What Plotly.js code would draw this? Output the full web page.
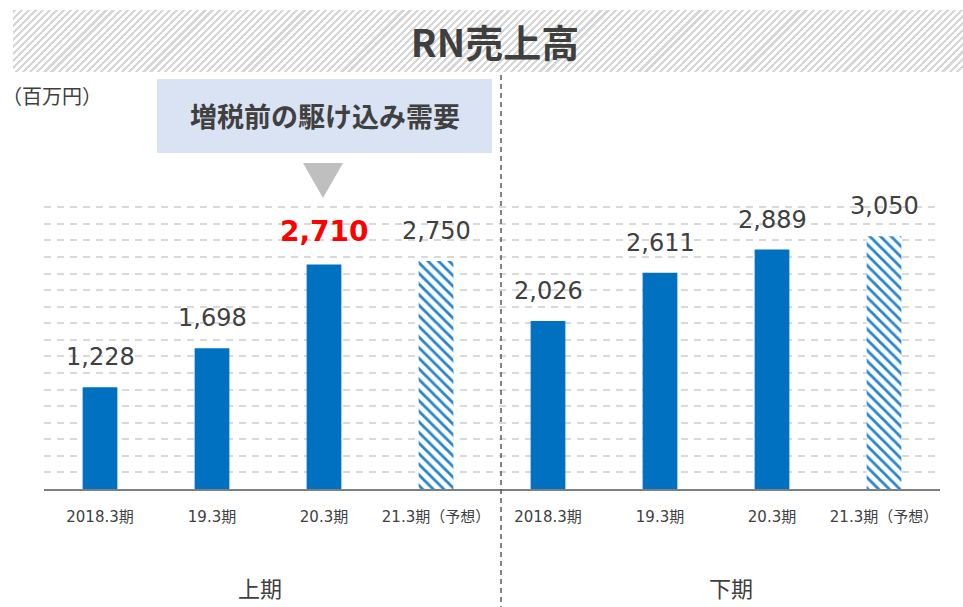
<!DOCTYPE html>
<html>
<head>
<meta charset="utf-8">
<script src="https://cdn.plot.ly/plotly-3.0.1.min.js"></script>
<style>
  html, body { margin: 0; padding: 0; background: #ffffff; }
  #wrap { position: relative; width: 963px; height: 607px; overflow: hidden; }
  #band { position: absolute; left: 13px; top: 10px; width: 950px; height: 62px;
          background: repeating-linear-gradient(135deg, #d6d6d6 0px, #d6d6d6 2.2px, #ffffff 2.2px, #ffffff 5px); }
  #chart { position: absolute; left: 0; top: 0; width: 963px; height: 607px; }
</style>
</head>
<body>
<div id="wrap">
  <div id="band"></div>
  <div id="chart"></div>
</div>
<script>
// ---- data ----
const categories = ["2018.3期", "19.3期", "20.3期", "21.3期（予想）", "2018.3期", "19.3期", "20.3期", "21.3期（予想）"];
const actualIdx = [0, 1, 2, 4, 5, 6];
const forecastIdx = [3, 7];
const sales = [1228, 1698, 2710, 2750, 2026, 2611, 2889, 3050];
const highlightIdx = 2;
const halfLabels = ["上期", "下期"];
const unitLabel = "（百万円）";
const calloutText = "増税前の駆け込み需要";
const titleText = "RN売上高";

// ---- layout geometry (pixels -> paper) ----
const L = 44, R = 23, T = 206, B = 118, W = 963, H = 607;
const pw = W - L - R, ph = H - T - B;
const px = x => (x - L) / pw;
const py = y => (H - B - y) / ph;

const blue = "#0070C0";
const txt = "#404040";
const numFont = "DejaVu Sans, Verdana, Noto Sans CJK JP, sans-serif";
const cjkFont = "Noto Sans CJK JP, DejaVu Sans, sans-serif";

const traces = [
  {
    type: "bar",
    x: actualIdx,
    y: actualIdx.map(i => sales[i]),
    width: 0.31,
    marker: { color: blue, line: { width: 0 } },
    hoverinfo: "skip"
  },
  {
    type: "bar",
    x: forecastIdx,
    y: forecastIdx.map(i => sales[i]),
    width: 0.31,
    marker: {
      color: blue,
      line: { width: 0 },
      pattern: { shape: "\\", fgcolor: "#2a86cc", bgcolor: "#ffffff", size: 7.5, solidity: 0.38 }
    },
    hoverinfo: "skip"
  }
];

const annotations = sales.map((v, i) => ({
  x: i, y: v, xref: "x", yref: "y",
  text: i === highlightIdx ? "<b>" + v.toLocaleString("en-US") + "</b>" : v.toLocaleString("en-US"),
  showarrow: false, yanchor: "bottom", xanchor: "center", yshift: 14,
  font: i === highlightIdx
    ? { family: numFont, size: 28, color: "#FF0000" }
    : { family: numFont, size: 24, color: txt }
}));

annotations.push(
  { xref: "paper", yref: "paper", x: px(0), y: py(96), xanchor: "left", yanchor: "middle",
    text: unitLabel, showarrow: false, font: { family: cjkFont, size: 20, color: txt } },
  { xref: "paper", yref: "paper", x: px(324.5), y: py(116), xanchor: "center", yanchor: "middle",
    text: "<b>" + calloutText + "</b>", showarrow: false, font: { family: cjkFont, size: 27, color: txt } },
  { xref: "paper", yref: "paper", x: px(260), y: py(587), xanchor: "center", yanchor: "middle",
    text: halfLabels[0], showarrow: false, font: { family: cjkFont, size: 22, color: txt } },
  { xref: "paper", yref: "paper", x: px(731), y: py(587), xanchor: "center", yanchor: "middle",
    text: halfLabels[1], showarrow: false, font: { family: cjkFont, size: 22, color: txt } }
);

const shapes = [
  { type: "rect", xref: "paper", yref: "paper", x0: px(157), x1: px(492), y0: py(153), y1: py(79),
    fillcolor: "#DAE3F3", line: { width: 0 }, layer: "below" },
  { type: "path", xref: "paper", yref: "paper",
    path: `M ${px(303)} ${py(163)} L ${px(343)} ${py(163)} L ${px(323)} ${py(198)} Z`,
    fillcolor: "#BFBFBF", line: { width: 0 } },
  { type: "line", xref: "paper", yref: "paper", x0: px(501), x1: px(501), y0: py(75), y1: py(607),
    line: { color: "#595959", width: 1.5, dash: "5px,4px" } }
];

const layout = {
  width: W, height: H,
  margin: { l: L, r: R, t: T, b: B, pad: 0 },
  paper_bgcolor: "rgba(0,0,0,0)",
  plot_bgcolor: "rgba(0,0,0,0)",
  showlegend: false,
  title: {
    text: "<b>" + titleText + "</b>",
    x: 495 / W, xanchor: "center", xref: "container",
    y: 1 - 44 / H, yanchor: "middle", yref: "container",
    font: { family: cjkFont, size: 38, color: "#3F3F3F" }
  },
  xaxis: {
    range: [-0.5, 7.5],
    tickvals: categories.map((c, i) => i),
    ticktext: categories,
    ticks: "", ticklabelstandoff: 13,
    tickfont: { family: numFont, size: 15, color: txt },
    showgrid: false, zeroline: false,
    showline: true, linecolor: "#7F7F7F", linewidth: 2,
    fixedrange: true
  },
  yaxis: {
    range: [0, 3415],
    tickvals: [200, 400, 600, 800, 1000, 1200, 1400, 1600, 1800, 2000, 2200, 2400, 2600, 2800, 3000, 3200, 3400],
    showticklabels: false, ticks: "",
    showgrid: true, gridcolor: "#D9D9D9", gridwidth: 2, griddash: "7px,6px",
    zeroline: false, showline: false,
    fixedrange: true
  },
  annotations: annotations,
  shapes: shapes
};

Plotly.newPlot("chart", traces, layout, { displayModeBar: false, staticPlot: true });
</script>
</body>
</html>
